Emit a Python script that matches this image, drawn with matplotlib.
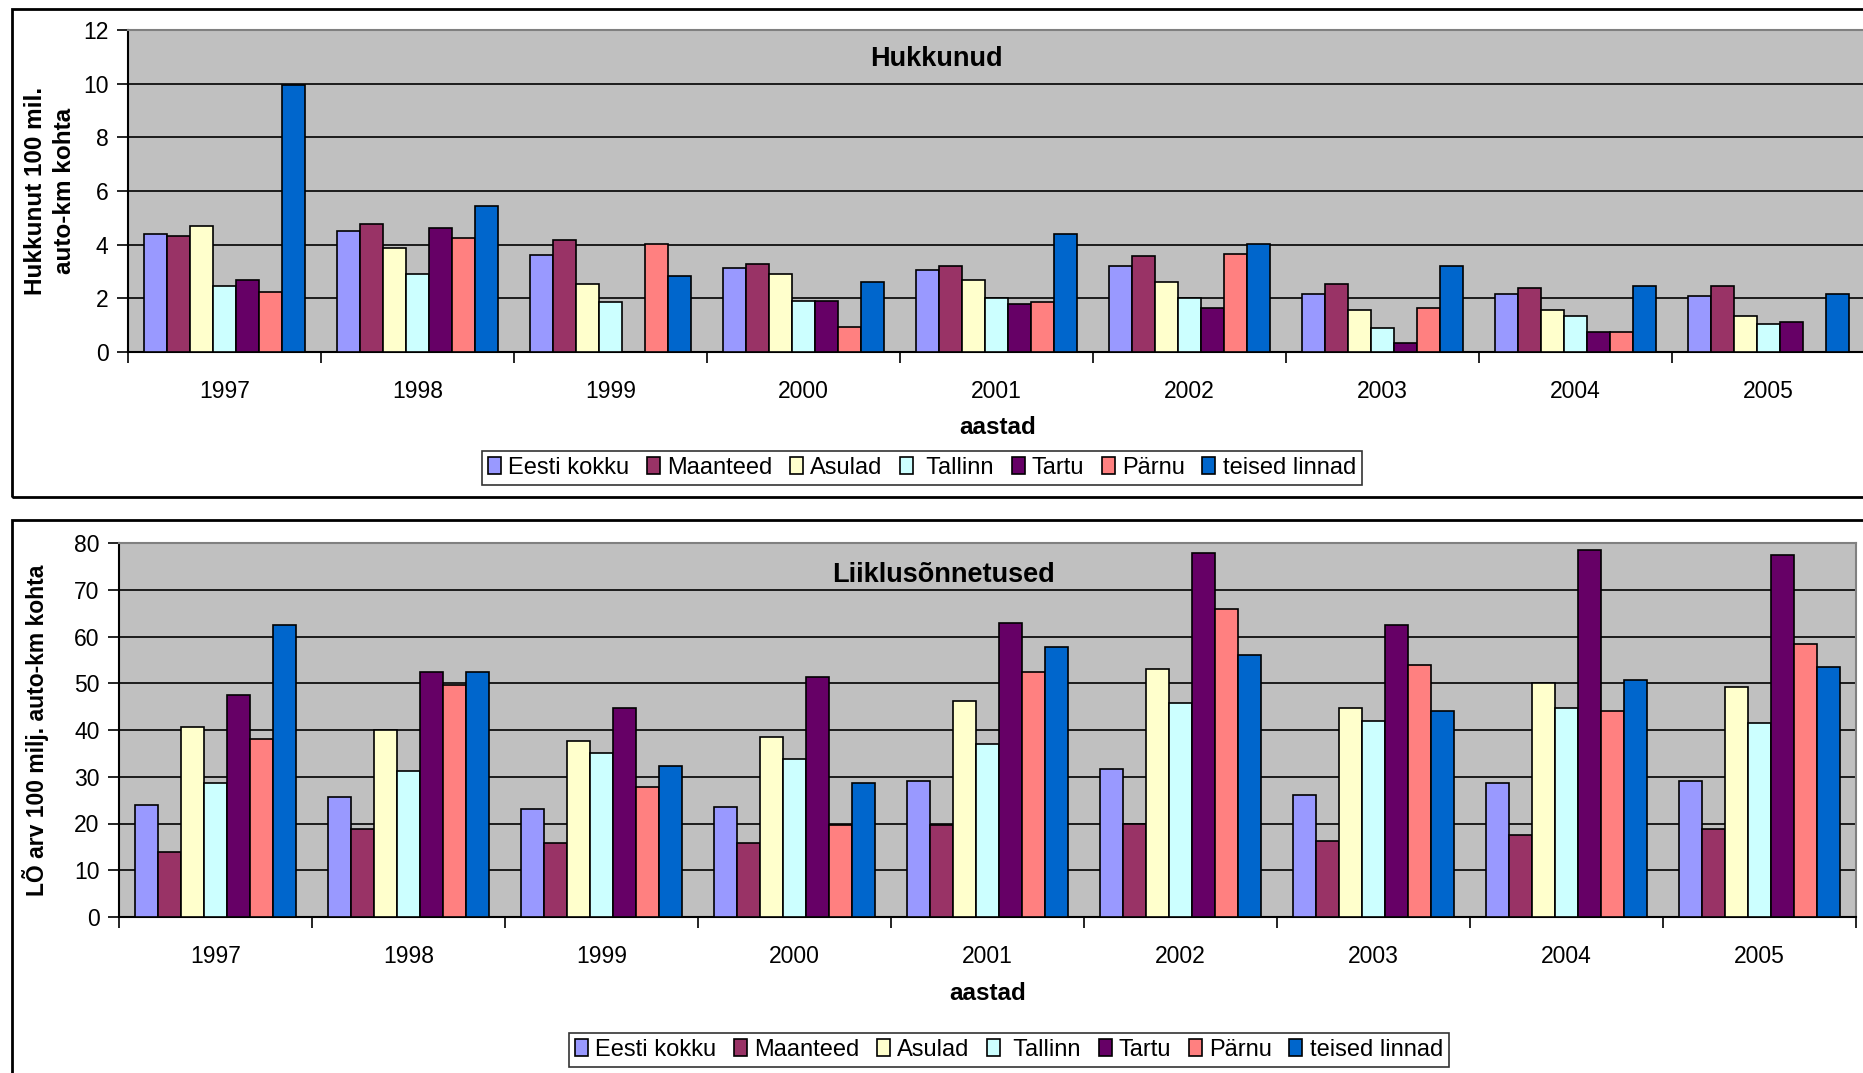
import matplotlib
matplotlib.use("Agg")
import matplotlib.pyplot as plt
from matplotlib.patches import Rectangle, Patch
import numpy as np

plt.rcParams['font.family'] = ['Liberation Sans', 'DejaVu Sans']

years = ["1997", "1998", "1999", "2000", "2001", "2002", "2003", "2004", "2005"]
series = ["Eesti kokku", "Maanteed", "Asulad", " Tallinn", "Tartu", "Pärnu", "teised linnad"]
colors = ["#9999FF", "#993366", "#FFFFCC", "#CCFFFF", "#660066", "#FF8080", "#0066CC"]

# Hukkunud (per 100 mil. auto-km), 0 = no value
hk_eesti = [4.4, 4.5, 3.6, 3.13, 3.05, 3.2, 2.15, 2.15, 2.08]
hk_maanteed = [4.33, 4.78, 4.18, 3.28, 3.2, 3.58, 2.53, 2.38, 2.45]
hk_asulad = [4.7, 3.88, 2.53, 2.9, 2.68, 2.6, 1.55, 1.55, 1.33]
hk_tallinn = [2.45, 2.9, 1.85, 1.91, 2.0, 2.0, 0.88, 1.33, 1.03]
hk_tartu = [2.68, 4.63, 0.0, 1.91, 1.78, 1.63, 0.35, 0.73, 1.1]
hk_parnu = [2.23, 4.25, 4.03, 0.95, 1.85, 3.65, 1.63, 0.73, 0.0]
hk_teised = [9.95, 5.45, 2.83, 2.6, 4.4, 4.03, 3.2, 2.45, 2.15]

# Liiklusõnnetused (per 100 milj. auto-km)
lo_eesti = [23.9, 25.7, 23.0, 23.5, 29.0, 31.6, 26.0, 28.6, 29.0]
lo_maanteed = [14.0, 18.8, 15.8, 15.8, 19.75, 20.0, 16.2, 17.5, 18.75]
lo_asulad = [40.6, 40.1, 37.6, 38.4, 46.1, 53.0, 44.8, 50.0, 49.1]
lo_tallinn = [28.6, 31.2, 35.0, 33.7, 37.1, 45.7, 41.9, 44.8, 41.4]
lo_tartu = [47.5, 52.5, 44.8, 51.3, 62.8, 77.8, 62.4, 78.6, 77.4]
lo_parnu = [38.0, 49.6, 27.8, 19.6, 52.5, 65.8, 53.8, 44.0, 58.5]
lo_teised = [62.4, 52.5, 32.4, 28.6, 57.7, 56.0, 44.0, 50.8, 53.5]

hk_data = [hk_eesti, hk_maanteed, hk_asulad, hk_tallinn, hk_tartu, hk_parnu, hk_teised]
lo_data = [lo_eesti, lo_maanteed, lo_asulad, lo_tallinn, lo_tartu, lo_parnu, lo_teised]

W, H = 1863, 1073
fig = plt.figure(figsize=(W / 100, H / 100), dpi=100)
fig.patch.set_facecolor("white")


def fx(px):
    return px / W


def fy(py):
    return 1 - py / H


def make_axes(left, right, top, bottom):
    return fig.add_axes([fx(left), fy(bottom), fx(right) - fx(left), fy(top) - fy(bottom)])


def draw_chart(ax, data, ymax, ystep):
    n = len(years)
    bw = 0.1197
    centers = np.arange(n) + 0.5
    for j, vals in enumerate(data):
        xs = centers + (j - 3) * bw
        ax.bar(xs, vals, width=bw, color=colors[j], edgecolor="black", linewidth=1.2, zorder=3)
    ax.set_xlim(0, n)
    ax.set_ylim(0, ymax)
    ax.set_facecolor("#C0C0C0")
    ax.set_yticks(np.arange(0, ymax + 0.1, ystep))
    ax.yaxis.grid(True, color="black", linewidth=1.2, zorder=0)
    ax.set_axisbelow(True)
    ax.set_xticks(np.arange(0, n + 1))
    ax.set_xticklabels([])
    ax.set_xticks(centers, minor=True)
    ax.set_xticklabels(years, minor=True)
    ax.tick_params(axis="x", which="major", direction="out", length=8, width=1.2, color="black")
    ax.tick_params(axis="x", which="minor", length=0, pad=20, labelsize=16.5)
    ax.tick_params(axis="y", direction="out", length=8, width=1.2, labelsize=16.5, pad=6)
    for s in ["left", "bottom"]:
        ax.spines[s].set_color("black")
        ax.spines[s].set_linewidth(1.5)
    for s in ["top", "right"]:
        ax.spines[s].set_color("#808080")
        ax.spines[s].set_linewidth(1.5)


# outer frames
fig.patches.append(Rectangle((fx(12), fy(497)), fx(1900) - fx(12), fy(9) - fy(497),
                             transform=fig.transFigure, fill=False, edgecolor="black", linewidth=2))
fig.patches.append(Rectangle((fx(12), fy(1100)), fx(1900) - fx(12), fy(520) - fy(1100),
                             transform=fig.transFigure, fill=False, edgecolor="black", linewidth=2))

# top chart
ax1 = make_axes(128, 1865, 30, 352)
draw_chart(ax1, hk_data, 12, 2)
fig.text(fx(936), fy(59), "Hukkunud", ha="center", va="center", fontsize=19.5, fontweight="bold")
fig.text(fx(50), fy(191), "Hukkunut 100 mil.\nauto-km kohta", ha="center", va="center",
         rotation=90, fontsize=17.5, fontweight="bold", linespacing=1.3)
fig.text(fx(998), fy(428), "aastad", ha="center", va="center", fontsize=17.5, fontweight="bold")

handles = [Patch(facecolor=c, edgecolor="black", linewidth=1.2) for c in colors]
leg_kw = dict(loc="center", ncol=7, fontsize=17, frameon=True, fancybox=False, edgecolor="black",
              handlelength=0.55, handleheight=0.75, handletextpad=0.3, columnspacing=0.75,
              borderpad=0.25, borderaxespad=0)
leg1 = fig.legend(handles, series, bbox_to_anchor=(fx(922), fy(468)), **leg_kw)
leg1.get_frame().set_linewidth(1.2)

# bottom chart
ax2 = make_axes(119, 1856, 543, 917)
draw_chart(ax2, lo_data, 80, 10)
fig.text(fx(944), fy(575), "Liiklusõnnetused", ha="center", va="center", fontsize=19.5, fontweight="bold")
fig.text(fx(36), fy(730), "LÕ arv 100 milj. auto-km kohta", ha="center", va="center",
         rotation=90, fontsize=16.5, fontweight="bold")
fig.text(fx(988), fy(993), "aastad", ha="center", va="center", fontsize=17.5, fontweight="bold")

leg2 = fig.legend(handles, series, bbox_to_anchor=(fx(1009), fy(1050)), **leg_kw)
leg2.get_frame().set_linewidth(1.2)

fig.savefig("out.png", dpi=100, facecolor="white")
